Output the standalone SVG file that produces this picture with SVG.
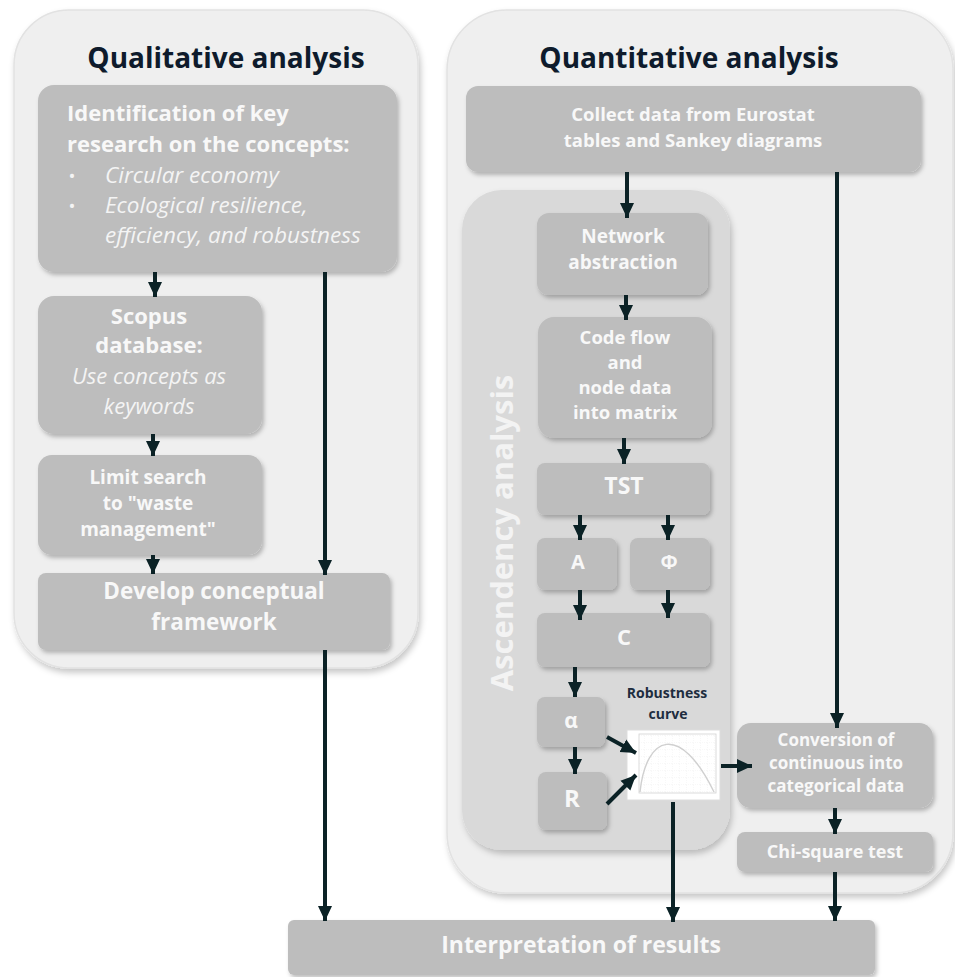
<svg xmlns="http://www.w3.org/2000/svg" width="955" height="977" viewBox="0 0 955 977">
<defs>
<filter id="sh" x="-10%" y="-10%" width="130%" height="140%">
<feDropShadow dx="2" dy="3" stdDeviation="2" flood-color="#000" flood-opacity="0.25"/>
</filter>
<filter id="psh" x="-5%" y="-5%" width="115%" height="115%">
<feDropShadow dx="2" dy="4" stdDeviation="3" flood-color="#000" flood-opacity="0.22"/>
</filter>
<marker id="ah" markerUnits="userSpaceOnUse" markerWidth="16" markerHeight="16" viewBox="0 0 16 16" refX="15" refY="8" orient="auto">
<path d="M0,1 L15,8 L0,15 Z" fill="#0b2226"/>
</marker>
<pattern id="grid" width="7" height="7" patternUnits="userSpaceOnUse">
<path d="M7,0 L0,0 0,7" fill="none" stroke="#e6e6e6" stroke-width="0.6" stroke-dasharray="1,1"/>
</pattern>
</defs>
<style>
.panel{fill:#efefef;stroke:#e2e2e2;stroke-width:1.5}
.box{fill:#bdbdbd;filter:url(#sh)}
.t{font-family:"Open Sans","Noto Sans","Liberation Sans",sans-serif;fill:#f8f8f8;font-weight:700;text-anchor:middle}
.ts{text-anchor:start}
.it{font-family:"Open Sans","Noto Sans","Liberation Sans",sans-serif;fill:#f4f4f4;font-style:italic;font-weight:400}
.title{font-family:"Open Sans","Noto Sans","Liberation Sans",sans-serif;fill:#0e1b2c;font-weight:700;font-size:28px;text-anchor:middle}
.c{fill:none;stroke:#0b2226;stroke-width:4;marker-end:url(#ah)}
</style>
<rect width="955" height="977" fill="#ffffff"/>

<g id="qualitative-panel">
<rect class="panel" x="14" y="10" width="404" height="658" rx="55" filter="url(#psh)"/>
<text class="title" x="226" y="68">Qualitative analysis</text>
</g>
<g id="quantitative-panel">
<rect class="panel" x="447" y="10" width="506" height="883" rx="60" filter="url(#psh)"/>
<text class="title" x="689" y="68">Quantitative analysis</text>
</g>
<g id="ascendency-panel">
<rect x="462" y="190" width="268" height="660" rx="40" fill="#d9d9d9" filter="url(#psh)"/>
<text class="t" transform="translate(513,533) rotate(-90)" font-size="31" style="fill:#f3f3f3">Ascendency analysis</text>
</g>

<g id="n-identification">
<rect class="box" x="38" y="85" width="359" height="187" rx="16"/>
<text class="t ts" x="67" y="121" font-size="22">Identification of key</text>
<text class="t ts" x="67" y="152" font-size="22">research on the concepts:</text>
<text class="it" x="68" y="183" font-size="19">•</text>
<text class="it" x="105" y="183" font-size="22.5">Circular economy</text>
<text class="it" x="68" y="213" font-size="19">•</text>
<text class="it" x="105" y="213" font-size="22.5">Ecological resilience,</text>
<text class="it" x="105" y="243" font-size="22.5">efficiency, and robustness</text>
</g>
<g id="n-scopus">
<rect class="box" x="38" y="296" width="224" height="138" rx="16"/>
<text class="t" x="149" y="324" font-size="22">Scopus</text>
<text class="t" x="149" y="353" font-size="22">database:</text>
<text class="it" x="149" y="384" font-size="22" text-anchor="middle">Use concepts as</text>
<text class="it" x="149" y="414" font-size="22" text-anchor="middle">keywords</text>
</g>
<g id="n-limit">
<rect class="box" x="38" y="455" width="224" height="100" rx="14"/>
<text class="t" x="148" y="484" font-size="19">Limit search</text>
<text class="t" x="148" y="510" font-size="19">to "waste</text>
<text class="t" x="148" y="536" font-size="19">management"</text>
</g>
<g id="n-develop">
<rect class="box" x="38" y="573" width="352" height="77" rx="8"/>
<text class="t" x="214" y="599" font-size="22.5">Develop conceptual</text>
<text class="t" x="214" y="630" font-size="22.5">framework</text>
</g>

<g id="n-collect">
<rect class="box" x="466" y="86" width="455" height="86" rx="12"/>
<text class="t" x="693" y="121" font-size="18.5">Collect data from Eurostat</text>
<text class="t" x="693" y="147" font-size="18.5">tables and Sankey diagrams</text>
</g>
<g id="n-network">
<rect class="box" x="537" y="213" width="171" height="82" rx="12"/>
<text class="t" x="623" y="243" font-size="19">Network</text>
<text class="t" x="623" y="269" font-size="19">abstraction</text>
</g>
<g id="n-code">
<rect class="box" x="538" y="317" width="174" height="121" rx="16"/>
<text class="t" x="625" y="344" font-size="18.5">Code flow</text>
<text class="t" x="625" y="369" font-size="18.5">and</text>
<text class="t" x="625" y="394" font-size="18.5">node data</text>
<text class="t" x="625" y="419" font-size="18.5">into matrix</text>
</g>
<g id="n-tst">
<rect class="box" x="537" y="463" width="173" height="52" rx="8"/>
<text class="t" x="624" y="494" font-size="23">TST</text>
</g>
<g id="n-a">
<rect class="box" x="537" y="538" width="80" height="52" rx="8"/>
<text class="t" x="578" y="569" font-size="20">A</text>
</g>
<g id="n-phi">
<rect class="box" x="630" y="538" width="80" height="52" rx="8"/>
<text class="t" x="669" y="569" font-size="20">Φ</text>
</g>
<g id="n-c">
<rect class="box" x="537" y="613" width="173" height="54" rx="8"/>
<text class="t" x="624" y="645" font-size="22">C</text>
</g>
<g id="n-alpha">
<rect class="box" x="537" y="697" width="68" height="50" rx="8"/>
<text class="t" x="571" y="728" font-size="21">α</text>
</g>
<g id="n-r">
<rect class="box" x="538" y="772" width="69" height="58" rx="8"/>
<text class="t" x="572" y="807" font-size="24">R</text>
</g>
<g id="n-robustness">
<text x="667" y="698" font-family="'Open Sans','Noto Sans','Liberation Sans',sans-serif" font-size="14" font-weight="700" fill="#1e2d3f" text-anchor="middle">Robustness</text>
<text x="668" y="719" font-family="'Open Sans','Noto Sans','Liberation Sans',sans-serif" font-size="14" font-weight="700" fill="#1e2d3f" text-anchor="middle">curve</text>
<rect x="627" y="730" width="93" height="70" fill="#ffffff" stroke="#dddddd" stroke-width="1"/>
<rect x="639" y="734" width="77" height="59" fill="url(#grid)" stroke="#d2d2d2" stroke-width="0.8"/>
<path d="M640,792 C646,735 680,722 714,792" fill="none" stroke="#d0d0d0" stroke-width="1.4"/>
</g>
<g id="n-conversion">
<rect class="box" x="737" y="723" width="196" height="85" rx="14"/>
<text class="t" x="836" y="746" font-size="17">Conversion of</text>
<text class="t" x="836" y="769" font-size="17">continuous into</text>
<text class="t" x="836" y="792" font-size="17">categorical data</text>
</g>
<g id="n-chi">
<rect class="box" x="737" y="832" width="196" height="40" rx="8"/>
<text class="t" x="835" y="858" font-size="18">Chi-square test</text>
</g>
<g id="n-interpretation">
<rect class="box" x="288" y="920" width="587" height="55" rx="6"/>
<text class="t" x="581" y="953" font-size="23">Interpretation of results</text>
</g>

<g id="connectors">
<line class="c" x1="155" y1="272" x2="155" y2="297"/>
<line class="c" x1="325" y1="272" x2="325" y2="575"/>
<line class="c" x1="153" y1="434" x2="153" y2="456"/>
<line class="c" x1="153" y1="555" x2="153" y2="574"/>
<line class="c" x1="325" y1="650" x2="325" y2="921"/>
<line class="c" x1="627" y1="172" x2="627" y2="218"/>
<line class="c" x1="837" y1="172" x2="837" y2="728"/>
<line class="c" x1="626" y1="295" x2="626" y2="320"/>
<line class="c" x1="624" y1="438" x2="624" y2="464"/>
<line class="c" x1="580" y1="515" x2="580" y2="540"/>
<line class="c" x1="668" y1="515" x2="668" y2="540"/>
<line class="c" x1="580" y1="590" x2="580" y2="620"/>
<line class="c" x1="668" y1="590" x2="668" y2="618"/>
<line class="c" x1="575" y1="667" x2="575" y2="697"/>
<line class="c" x1="575" y1="747" x2="575" y2="774"/>
<line class="c" x1="607" y1="737" x2="636" y2="753"/>
<line class="c" x1="607" y1="804" x2="636" y2="775"/>
<line class="c" x1="721" y1="766" x2="752" y2="766"/>
<line class="c" x1="673" y1="802" x2="673" y2="922"/>
<line class="c" x1="835" y1="808" x2="835" y2="834"/>
<line class="c" x1="835" y1="872" x2="835" y2="921"/>
</g>
</svg>
